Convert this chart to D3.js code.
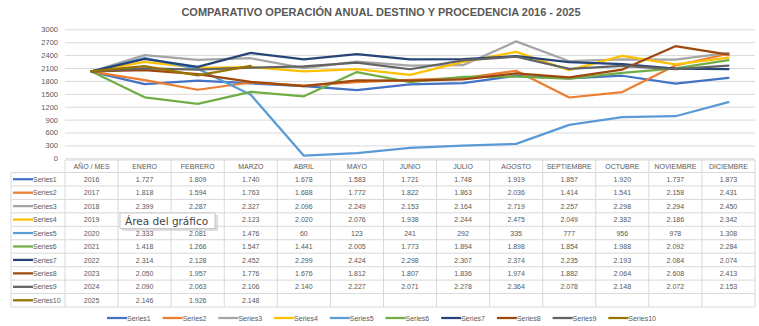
<!DOCTYPE html>
<html><head><meta charset="utf-8">
<script src="https://cdn.jsdelivr.net/npm/d3@7"></script>
<style>
html,body{margin:0;padding:0;background:#fff;}
svg{display:block;font-family:"Liberation Sans",Arial,sans-serif;}
</style></head>
<body>
<svg id="c" width="759" height="326"></svg>
<script>
const title = "COMPARATIVO OPERACIÓN ANUAL DESTINO Y PROCEDENCIA 2016 - 2025";
const categories = ["AÑO / MES","ENERO","FEBRERO","MARZO","ABRIL","MAYO","JUNIO","JULIO","AGOSTO","SEPTIEMBRE","OCTUBRE","NOVIEMBRE","DICIEMBRE"];
const seriesNames = ["Series1","Series2","Series3","Series4","Series5","Series6","Series7","Series8","Series9","Series10"];
const seriesColors = ["#4472C4","#ED7D31","#A5A5A5","#FFC000","#5B9BD5","#70AD47","#264478","#9E480E","#636363","#997300"];
const series1 = [2016,1727,1809,1740,1678,1583,1721,1748,1919,1857,1920,1737,1873];
const series2 = [2017,1818,1594,1763,1688,1772,1822,1863,2036,1414,1541,2158,2431];
const series3 = [2018,2399,2287,2327,2096,2249,2153,2164,2719,2257,2298,2294,2450];
const series4 = [2019,2241,2105,2123,2020,2076,1938,2244,2475,2049,2382,2186,2342];
const series5 = [2020,2333,2081,1476,60,123,241,292,335,777,956,978,1308];
const series6 = [2021,1418,1266,1547,1441,2005,1773,1894,1898,1854,1988,2092,2284];
const series7 = [2022,2314,2128,2452,2299,2424,2298,2307,2374,2235,2193,2084,2074];
const series8 = [2023,2050,1957,1776,1676,1812,1807,1836,1974,1882,2064,2608,2413];
const series9 = [2024,2090,2063,2106,2140,2227,2071,2278,2364,2078,2148,2072,2153];
const series10 = [2025,2146,1926,2148];
const yTicks = [0,300,600,900,1200,1500,1800,2100,2400,2700,3000];
const tooltipText = "Área del gráfico";
// table cells hidden beneath the tooltip in the reference: [seriesIndex, categoryIndex]
const hiddenCells = [[3,1],[3,2]];

const allSeries = [series1,series2,series3,series4,series5,series6,series7,series8,series9,series10];
const svg = d3.select("#c");
const textCol = "#595959";
const gridCol = "#d9d9d9";

const x = d3.scaleBand().domain(categories).range([65,755]).paddingInner(0).paddingOuter(0);
const y = d3.scaleLinear().domain([0,3000]).range([158.3,29.3]);
const cx = c => x(c) + x.bandwidth()/2;

// title
svg.append("text").attr("x",381).attr("y",16).attr("text-anchor","middle")
  .attr("font-size",11).attr("font-weight","bold").attr("fill",textCol).text(title);

// y axis with gridlines
const yAxis = d3.axisLeft(y).tickValues(yTicks).tickSize(-(755-65)).tickPadding(7).tickFormat(d3.format("d"));
const gy = svg.append("g").attr("transform","translate(65,0)").call(yAxis);
gy.select(".domain").remove();
gy.selectAll(".tick line").attr("stroke",gridCol).attr("stroke-width",1);
gy.selectAll(".tick text").attr("fill",textCol).attr("font-size",7.5).attr("font-family","Liberation Sans, Arial, sans-serif");

// lines
const line = d3.line().x((d,i)=>cx(categories[i])).y(d=>y(d));
allSeries.forEach((s,k)=>{
  svg.append("path").datum(s).attr("d",line).attr("fill","none")
    .attr("stroke",seriesColors[k]).attr("stroke-width",2.25).attr("stroke-linejoin","round").attr("stroke-linecap","round");
});

// data table
const rowH = 13.45;
const headTop = 160, headBot = 172.5;
const tbl = svg.append("g");
const fmt = v => v >= 1000 ? Math.floor(v/1000) + "." + String(v%1000).padStart(3,"0") : String(v);
const isHidden = (k,i) => hiddenCells.some(h=>h[0]===k && h[1]===i);
categories.forEach(c=>{
  tbl.append("text").attr("x",cx(c)).attr("y",headTop+9).attr("text-anchor","middle")
    .attr("font-size",7).attr("fill",textCol).text(c);
});
allSeries.forEach((s,k)=>{
  const top = headBot + k*rowH;
  tbl.append("line").attr("x1",13).attr("x2",33).attr("y1",top+rowH/2).attr("y2",top+rowH/2)
    .attr("stroke",seriesColors[k]).attr("stroke-width",2.25);
  tbl.append("text").attr("x",33).attr("y",top+rowH/2+2.6).attr("font-size",7).attr("fill",textCol).text(seriesNames[k]);
  s.forEach((v,i)=>{
    if(isHidden(k,i)) return;
    tbl.append("text").attr("x",cx(categories[i])).attr("y",top+rowH/2+2.6).attr("text-anchor","middle")
      .attr("font-size",7).attr("fill",textCol).text(i===0 ? String(v) : fmt(v));
  });
});
const tableBot = headBot + allSeries.length*rowH;
tbl.append("line").attr("x1",65).attr("x2",755).attr("y1",headTop).attr("y2",headTop).attr("stroke",gridCol);
for(let k=0;k<=allSeries.length;k++){
  const yy = headBot + k*rowH;
  tbl.append("line").attr("x1",11).attr("x2",755).attr("y1",yy).attr("y2",yy).attr("stroke",gridCol);
}
tbl.append("line").attr("x1",11).attr("x2",11).attr("y1",headBot).attr("y2",tableBot).attr("stroke",gridCol);
categories.forEach(c=>{
  tbl.append("line").attr("x1",x(c)).attr("x2",x(c)).attr("y1",headTop).attr("y2",tableBot).attr("stroke",gridCol);
});
tbl.append("line").attr("x1",755).attr("x2",755).attr("y1",headTop).attr("y2",tableBot).attr("stroke",gridCol);

// legend
const lg = svg.append("g");
seriesNames.forEach((n,k)=>{
  const lx = 107 + k*55.7;
  lg.append("line").attr("x1",lx).attr("x2",lx+20).attr("y1",318).attr("y2",318)
    .attr("stroke",seriesColors[k]).attr("stroke-width",2.25);
  lg.append("text").attr("x",lx+20).attr("y",320.5).attr("font-size",7).attr("fill",textCol).text(n);
});

// tooltip overlay
const tt = svg.append("g");
tt.append("rect").attr("x",122).attr("y",215).attr("width",96).attr("height",16).attr("fill","#bbb").attr("opacity",0.5);
tt.append("rect").attr("x",120).attr("y",213).attr("width",95).attr("height",15.5).attr("fill","#fff").attr("stroke","#bdbdbd").attr("stroke-width",0.8);
tt.append("text").attr("x",125).attr("y",225).attr("fill","#444")
  .attr("font-family","DejaVu Sans, sans-serif").attr("font-size",10.5).text(tooltipText);
</script>
</body></html>
